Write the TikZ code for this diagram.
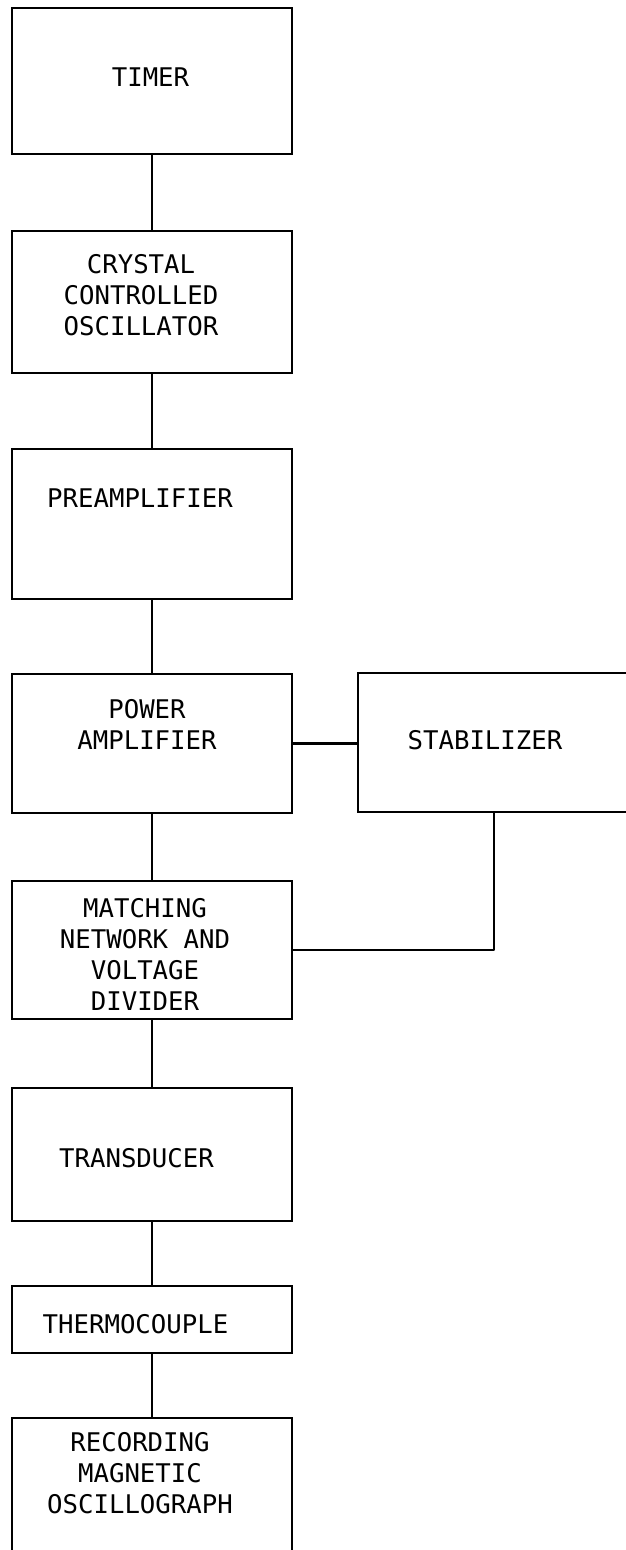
\documentclass[tikz,border=0pt]{standalone}
\usepackage{fontspec}
\newfontfamily\leroyfont{DejaVu Sans Mono}
\usetikzlibrary{positioning}

\begin{document}
\begin{tikzpicture}[x=1pt,y=1pt,
  blk/.style={draw,line width=2.6pt,minimum width=280pt,inner sep=0pt},
  lbl/.style={font=\fontsize{25.7}{31}\selectfont\leroyfont,align=center,inner sep=0pt},
  wire/.style={line width=1.8pt},
  bus/.style={line width=2.6pt,line join=round}]
\path[use as bounding box,clip] (0,0) rectangle (626,-1550);
% Main chain of boxes
\node[blk,minimum height=146pt] (timer) at (152,-81) {};
\node[blk,minimum height=142pt] (osc) at (152,-302) {};
\node[blk,minimum height=150pt] (preamp) at (152,-524) {};
\node[blk,minimum height=139pt] (power) at (152,-743.5) {};
\node[blk,minimum height=138pt] (match) at (152,-950) {};
\node[blk,minimum height=133pt] (trans) at (152,-1154.5) {};
\node[blk,minimum height=67pt] (thermo) at (152,-1319.5) {};
\node[blk,minimum height=202pt] (rec) at (152,-1519) {};
% Side box, runs off the right edge
\node[blk,minimum width=342pt,minimum height=139pt] (stab) at (529,-742.5) {};
% Labels
\node[lbl] (timer-t) at (150.5,-77) {TIMER};
\node[lbl] (osc-t) at (141,-295) {CRYSTAL\\CONTROLLED\\OSCILLATOR};
\node[lbl] (preamp-t) at (140,-498) {PREAMPLIFIER};
\node[lbl] (power-t) at (147,-724) {POWER\\AMPLIFIER};
\node[lbl] (stab-t) at (485,-740) {STABILIZER};
\node[lbl] (match-t) at (145,-954.5) {MATCHING\\NETWORK AND\\VOLTAGE\\DIVIDER};
\node[lbl] (trans-t) at (136.5,-1158) {TRANSDUCER};
\node[lbl] (thermo-t) at (135.5,-1324) {THERMOCOUPLE};
\node[lbl] (rec-t) at (140,-1473.5) {RECORDING\\MAGNETIC\\OSCILLOGRAPH};
% Connectors
\draw[wire] (timer) -- (osc);
\draw[wire] (osc) -- (preamp);
\draw[wire] (preamp) -- (power);
\draw[wire] (power) -- (match);
\draw[wire] (match) -- (trans);
\draw[wire] (trans) -- (thermo);
\draw[wire] (thermo) -- (rec);
\draw[bus] (power.east) -- (power.east -| stab.west);
\coordinate (tap) at (494,-812);
\draw[bus] (tap) |- (match.east);
\end{tikzpicture}
\end{document}
